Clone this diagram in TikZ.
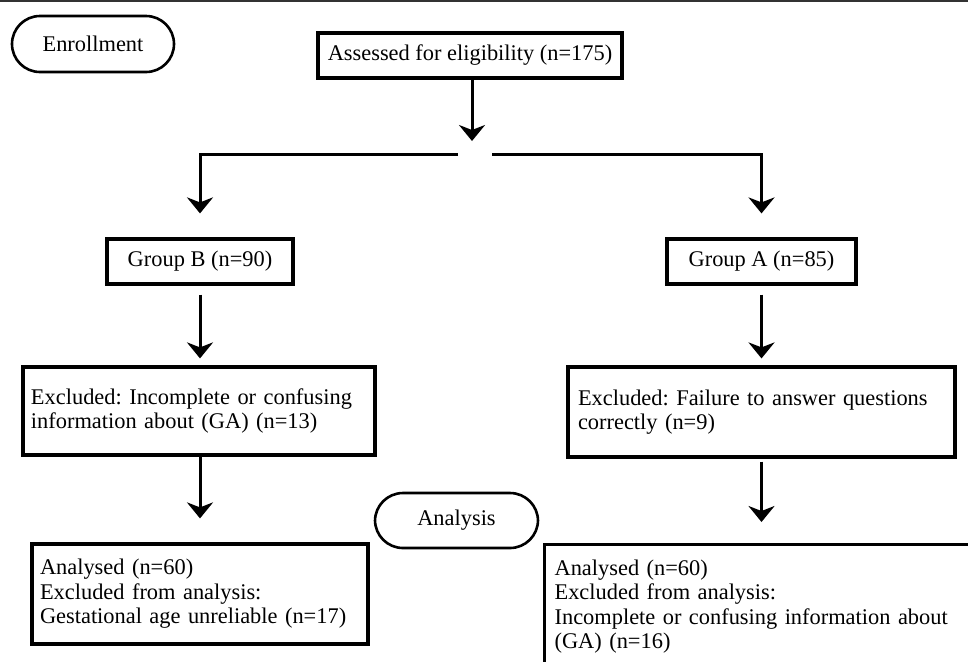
\documentclass[tikz,border=0pt]{standalone}
\usepackage{fontspec}
\setmainfont{Liberation Serif}
\frenchspacing
\usetikzlibrary{arrows.meta}
\begin{document}
\begin{tikzpicture}[x=0.5pt, y=-0.5pt,
  box/.style={draw, line width=1.6pt, inner sep=0pt, font=\fontsize{11.2}{12.3}\selectfont},
  pill/.style={draw, line width=1.3pt, rounded corners=14pt, inner sep=0pt, font=\fontsize{11.2}{12.3}\selectfont},
  arr/.style={line width=1.5pt, -{Stealth[length=8pt, width=13pt, inset=2.5pt]}}]
\useasboundingbox (0,0) rectangle (968,661);
\draw[line width=1pt, black!80] (0,1) -- (968,1);
\node[pill, minimum width=81pt, minimum height=28pt] (enr) at (93,44){Enrollment};
\node[box, minimum width=152pt, minimum height=22.5pt] (elig) at (470,55.5){Assessed for eligibility (n=175)};
\coordinate (split) at (472,154);
\coordinate (splitB) at (458,154);
\coordinate (splitA) at (492,154);
\draw[arr, shorten >=6.5pt] (elig.south -| split) -- (split);
\node[box, minimum width=93pt, minimum height=22.5pt] (grpB) at (200,261.5){Group B (n=90)};
\node[box, minimum width=94.5pt, minimum height=22.5pt] (grpA) at (761.5,261.5){Group A (n=85)};
\draw[arr, shorten >=12pt] (splitB) -| (grpB.north);
\draw[arr, shorten >=12pt] (splitA) -| (grpA.north);
\node[box, text width=168pt, inner xsep=4pt, align=left, minimum height=44pt] (exclB) at (199,411){Excluded: Incomplete or confusing\\information about (GA) (n=13)};
\node[box, text width=183.5pt, inner xsep=5pt, align=left, minimum height=45pt] (exclA) at (761.5,412){Excluded: Failure to answer questions\\correctly (n=9)};
\draw[arr, shorten <=4.5pt, shorten >=3.5pt] (grpB.south) -- (grpB.south |- exclB.north);
\draw[arr, shorten <=4.5pt, shorten >=3.5pt] (grpA.south) -- (grpA.south |- exclA.north);
\node[pill, minimum width=81.5pt, minimum height=27.5pt] (anl) at (456.5,520.5){Analysis};
\node[box, text width=160pt, inner xsep=4pt, align=left, minimum height=50pt] (anaB) at (200,594){Analysed (n=60)\\Excluded from analysis:\\Gestational age unreliable (n=17)};
\node[box, anchor=north west, text width=215pt, inner xsep=5pt, align=left, minimum height=62pt] (anaA) at (543,543){Analysed (n=60)\\Excluded from analysis:\\Incomplete or confusing information about\\(GA) (n=16)};
\draw[arr, shorten >=12pt] (anaB.north |- exclB.south) -- (anaB.north);
\draw[arr, shorten <=1.5pt, shorten >=10.5pt] (exclA.south) -- (exclA.south |- anaA.north);

\end{tikzpicture}
\end{document}
